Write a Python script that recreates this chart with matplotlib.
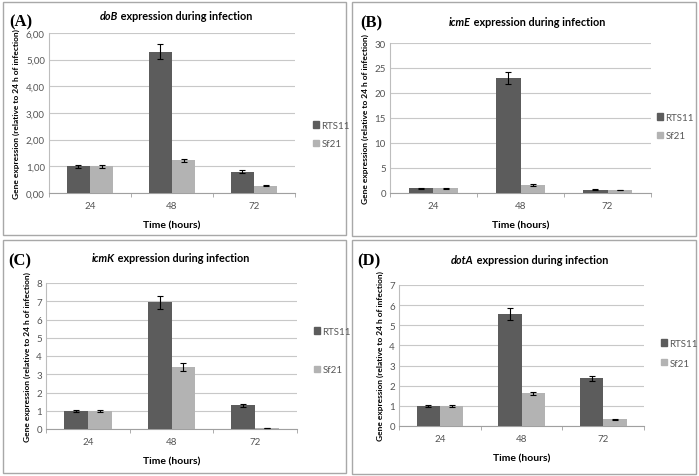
import numpy as np
import matplotlib
matplotlib.use("Agg")
import matplotlib.pyplot as plt
from matplotlib.patches import Rectangle, Patch
from matplotlib.ticker import FuncFormatter

plt.rcParams['font.family'] = ['Lato', 'DejaVu Sans']

# data
hours = ['24', '48', '72']
series = ['RTS11', 'Sf21']

doB_rts = [1.00, 5.30, 0.80]
doB_rts_err = [0.05, 0.27, 0.05]
doB_sf = [1.00, 1.22, 0.28]
doB_sf_err = [0.05, 0.05, 0.02]

icmE_rts = [1.0, 23.0, 0.7]
icmE_rts_err = [0.1, 1.2, 0.1]
icmE_sf = [1.0, 1.65, 0.7]
icmE_sf_err = [0.1, 0.15, 0.0]

icmK_rts = [1.0, 6.95, 1.3]
icmK_rts_err = [0.05, 0.35, 0.08]
icmK_sf = [1.0, 3.4, 0.05]
icmK_sf_err = [0.05, 0.2, 0.0]

dotA_rts = [1.0, 5.55, 2.37]
dotA_rts_err = [0.05, 0.3, 0.13]
dotA_sf = [1.0, 1.63, 0.33]
dotA_sf_err = [0.05, 0.08, 0.02]

W, H = 699, 477
fig = plt.figure(figsize=(W / 100, H / 100), dpi=100)

dark = '#5c5c5c'
light = '#b3b3b3'
grid = '#c8c8c8'
tickc = '#555555'


def box(l, t, r, b):
    return [l / W, 1 - b / H, (r - l) / W, (b - t) / H]


def panel(frame, axbox, letter, letter_xy, gene, title_xy, rts, rts_err, sf, sf_err,
          ymax, step, fmt, leg_xy, leg_space):
    # panel border
    l, t, r, b = frame
    fig.patches.append(Rectangle((l / W, 1 - b / H), (r - l) / W, (b - t) / H,
                                 transform=fig.transFigure, fill=False,
                                 edgecolor='#a8a8a8', linewidth=1.0))
    ax = fig.add_axes(box(*axbox))
    x = np.arange(len(hours))
    w = 1 / 3.5
    ax.bar(x - w / 2, rts, w, color=dark, zorder=3, label=series[0])
    ax.bar(x + w / 2, sf, w, color=light, zorder=3, label=series[1])
    ax.errorbar(x - w / 2, rts, yerr=rts_err, fmt='none', ecolor='black',
                elinewidth=0.8, capsize=2, capthick=0.8, zorder=4)
    ax.errorbar(x + w / 2, sf, yerr=sf_err, fmt='none', ecolor='black',
                elinewidth=0.8, capsize=2, capthick=0.8, zorder=4)
    ax.set_xlim(-0.5, 2.5)
    ax.set_ylim(0, ymax)
    ax.set_yticks(np.arange(0, ymax + step / 2, step))
    ax.yaxis.set_major_formatter(FuncFormatter(fmt))
    ax.grid(axis='y', color=grid, linewidth=0.8, zorder=0)
    ax.set_xticks(x)
    ax.set_xticklabels(hours)
    ax.set_xticks([-0.5, 0.5, 1.5, 2.5], minor=True)
    ax.tick_params(axis='x', which='major', length=0, labelsize=7,
                   colors=tickc, pad=6)
    ax.tick_params(axis='x', which='minor', length=3, color='#a0a0a0')
    ax.tick_params(axis='y', length=0, labelsize=7, colors=tickc, pad=3)
    for s in ['top', 'right']:
        ax.spines[s].set_visible(False)
    ax.spines['left'].set_color('#bdbdbd')
    ax.spines['bottom'].set_color('#a0a0a0')
    ax.set_xlabel('Time (hours)', fontsize=7.5, fontweight='bold', labelpad=7)
    ax.set_ylabel('Gene expression (relative to 24 h of infection)', fontsize=6,
                  fontweight='bold', labelpad=4)

    fig.text(letter_xy[0] / W, 1 - letter_xy[1] / H, letter, fontsize=12,
             fontweight='bold', family='Liberation Serif', ha='center', va='center')
    t1 = fig.text(title_xy[0] / W, 1 - title_xy[1] / H, gene, fontsize=7.8,
                  fontweight='bold', style='italic', ha='left', va='center')
    fig.add_artist(plt.Annotation(' expression during infection', xy=(1, 0),
                                  xycoords=t1, va='bottom', ha='left',
                                  fontsize=7.8, fontweight='bold'))

    handles = [Patch(color=dark), Patch(color=light)]
    fig.legend(handles, series, loc='upper left',
               bbox_to_anchor=(leg_xy[0] / W, 1 - leg_xy[1] / H),
               frameon=False, fontsize=7, handlelength=0.6, handleheight=0.6,
               handletextpad=0.3, labelspacing=leg_space, borderpad=0,
               labelcolor=tickc)
    return ax


def comma2(v, pos):
    return ('%.2f' % v).replace('.', ',')


def plain(v, pos):
    return '%d' % v


panel((3, 3, 346, 236), (49, 34, 295, 194), '(A)', (21, 22), 'doB', (100, 17),
      doB_rts, doB_rts_err, doB_sf, doB_sf_err, 6, 1, comma2, (308, 117), 0.95)
panel((352, 3, 696, 237), (390, 44, 651, 194), '(B)', (371, 23), 'icmE', (449, 23),
      icmE_rts, icmE_rts_err, icmE_sf, icmE_sf_err, 30, 5, plain, (652, 109), 0.95)
panel((3, 241, 346, 474), (46, 284, 297, 430), '(C)', (20, 261), 'icmK', (92, 258),
      icmK_rts, icmK_rts_err, icmK_sf, icmK_sf_err, 8, 1, plain, (309, 323), 3.0)
panel((352, 241, 696, 475), (399, 286, 644, 427), '(D)', (369, 261), 'dotA', (451, 261),
      dotA_rts, dotA_rts_err, dotA_sf, dotA_sf_err, 7, 1, plain, (656, 335), 1.1)

fig.savefig('out.png', dpi=100)
